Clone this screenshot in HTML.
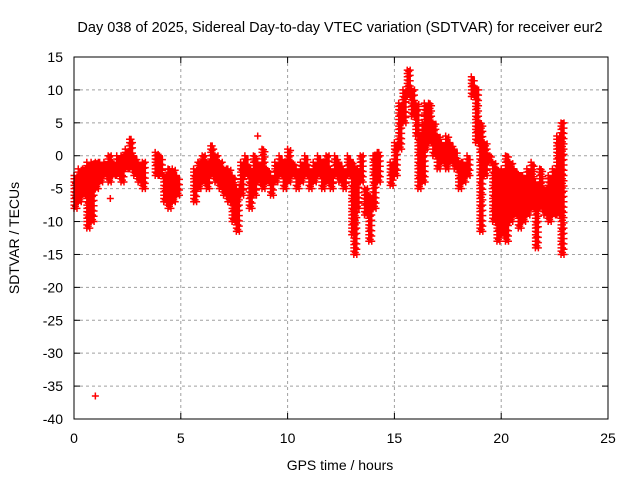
<!DOCTYPE html>
<html><head><meta charset="utf-8"><style>
body{margin:0;background:#fff}
svg{display:block;font-family:"Liberation Sans",sans-serif}
</style></head><body>
<svg id="chart" width="640" height="480" viewBox="0 0 640 480">
<rect width="640" height="480" fill="#fff"/>
<text x="340" y="32" font-size="14.5" text-anchor="middle">Day 038 of 2025, Sidereal Day-to-day VTEC variation (SDTVAR) for receiver eur2</text>
<g id="grid"></g>
<g id="ticks"></g>
<g id="marks"></g>
<rect x="74" y="57" width="534" height="362" fill="none" stroke="#000" stroke-width="1"/>
<text x="340" y="470" font-size="14" text-anchor="middle">GPS time / hours</text>
<text x="19" y="238" font-size="14" text-anchor="middle" transform="rotate(-90 19 238)">SDTVAR / TECUs</text>
</svg>
<script>
const xTicks=[0,5,10,15,20,25];
const yTicks=[15,10,5,0,-5,-10,-15,-20,-25,-30,-35,-40];
const hours=[0,0.2,0.4,0.6,0.8,1.0,1.2,1.4,1.6,1.8,2.0,2.2,2.4,2.6,2.8,3.0,3.2,3.8,4.0,4.2,4.4,4.6,4.8,5.6,5.8,6.0,6.2,6.4,6.6,6.8,7.0,7.2,7.4,7.6,7.8,8.0,8.2,8.4,8.6,8.8,9.0,9.2,9.4,9.6,9.8,10.0,10.2,10.4,10.6,10.8,11.0,11.2,11.4,11.6,11.8,12.0,12.2,12.4,12.6,12.8,13.0,13.1,13.2,13.4,13.6,13.8,14.0,14.2,14.8,15.0,15.2,15.4,15.6,15.8,16.0,16.1,16.3,16.4,16.6,16.8,17.0,17.2,17.4,17.6,17.8,18.0,18.2,18.4,18.6,18.8,19.0,19.2,19.4,19.6,19.8,20.0,20.2,20.4,20.6,20.8,21.0,21.2,21.4,21.6,21.8,22.0,22.2,22.4,22.6,22.8];
const lowVals=[-8,-7,-6,-11,-10,-5,-4,-3,-4,-3,-3,-4,-2,-2,-3,-4,-5,-3,-3,-7,-8,-7,-6,-7,-5,-4,-5,-3,-4,-5,-6,-7,-10,-11.5,-6,-3,-8,-6,-4,-5,-4,-6,-4,-3,-5,-4,-3,-5,-4,-3,-5,-4,-3,-5,-4,-5,-3,-4,-5,-3,-12,-15,-8,-4,-9,-13,-8,-4,-4.5,-3,1,5,9,6,3,-5,-4,1,2,0,-2,-1,-2,-1,-2,-5,-4,-3,9,2,-11.5,-3,-1,-10,-13,-12,-13,-10,-9,-11,-10,-9,-8,-14,-8,-9,-10,-9,-9,-15];
const highVals=[-3,-2,-2,-1,-1,-1,-1,-1,0,-1,0,0,1,2.5,0,-1,-1,0.5,0,-3,-2,-2,-3,-2,-1,0,-1,1.5,0,-1,-2,-2,-3,-5,-1,0,-2,0,-1,1,-2,-3,-1,0,-1,1,-1,-2,-1,0,-2,-1,0,-1,0,-2,0,-1,-2,0,-1,-7,-2,0,-5,-6,0,0.5,-1,2,8,10,13,10,8,3,5,8,8,5,3,2,3,2,1,-1,-1,0,12,10,5,2,0,-1,-2,-2,0,-1,-2,-3,-3,-2,-1,-4,-2,-5,-3,-2,3,5];
const outlierHours=[1.0,1.7,8.6];
const outlierVals=[-36.5,-6.5,3];
const X=t=>74+t*(534/25), Y=v=>57+(15-v)*(362/55);
const NS='http://www.w3.org/2000/svg';
const grid=document.getElementById('grid'),ticks=document.getElementById('ticks'),marks=document.getElementById('marks');
function mk(tag,at,parent){const e=document.createElementNS(NS,tag);for(const k in at)e.setAttribute(k,at[k]);parent.appendChild(e);return e;}
xTicks.forEach(t=>{const x=X(t);
 if(t>0&&t<25){const g=mk('line',{x1:x,x2:x,y1:57,y2:419,stroke:'#a0a0a0','stroke-dasharray':'3,3'},grid);
 
 }
 mk('line',{x1:x,x2:x,y1:419,y2:413,stroke:'#000'},ticks);mk('line',{x1:x,x2:x,y1:57,y2:63,stroke:'#000'},ticks);
 const l=mk('text',{x:x,y:443,'font-size':14,'text-anchor':'middle'},ticks);l.textContent=t;
 
 });
yTicks.forEach(v=>{const y=Y(v);
 if(v<15&&v>-40){const g=mk('line',{x1:74,x2:608,y1:y,y2:y,stroke:'#a0a0a0','stroke-dasharray':'3,3'},grid);
 
 }
 mk('line',{x1:74,x2:80,y1:y,y2:y,stroke:'#000'},ticks);mk('line',{x1:602,x2:608,y1:y,y2:y,stroke:'#000'},ticks);
 const l=mk('text',{x:63,y:y+5,'font-size':14,'text-anchor':'end'},ticks);l.textContent=v;
 
 });
let d='';
function plus(t,v){const x=X(t),y=Y(v);d+=`M${x-3.5},${y}h7M${x},${y-3.5}v7`;}
hours.forEach((t,i)=>{const lo=lowVals[i],hi=highVals[i];
 for(let v=lo;v<=hi+0.001;v+=0.5)plus(t,v);plus(t,hi);
 for(let v=lo+0.3;v<=hi+0.001;v+=0.7)plus(t+0.07,v);
 for(let v=lo;v<=hi+0.001;v+=0.8)plus(t+0.14,v);});
outlierHours.forEach((t,i)=>plus(t,outlierVals[i]));
const p=mk('path',{d:d,stroke:'#f00','stroke-width':1.5,fill:'none'},marks);


</script>
</body></html>
